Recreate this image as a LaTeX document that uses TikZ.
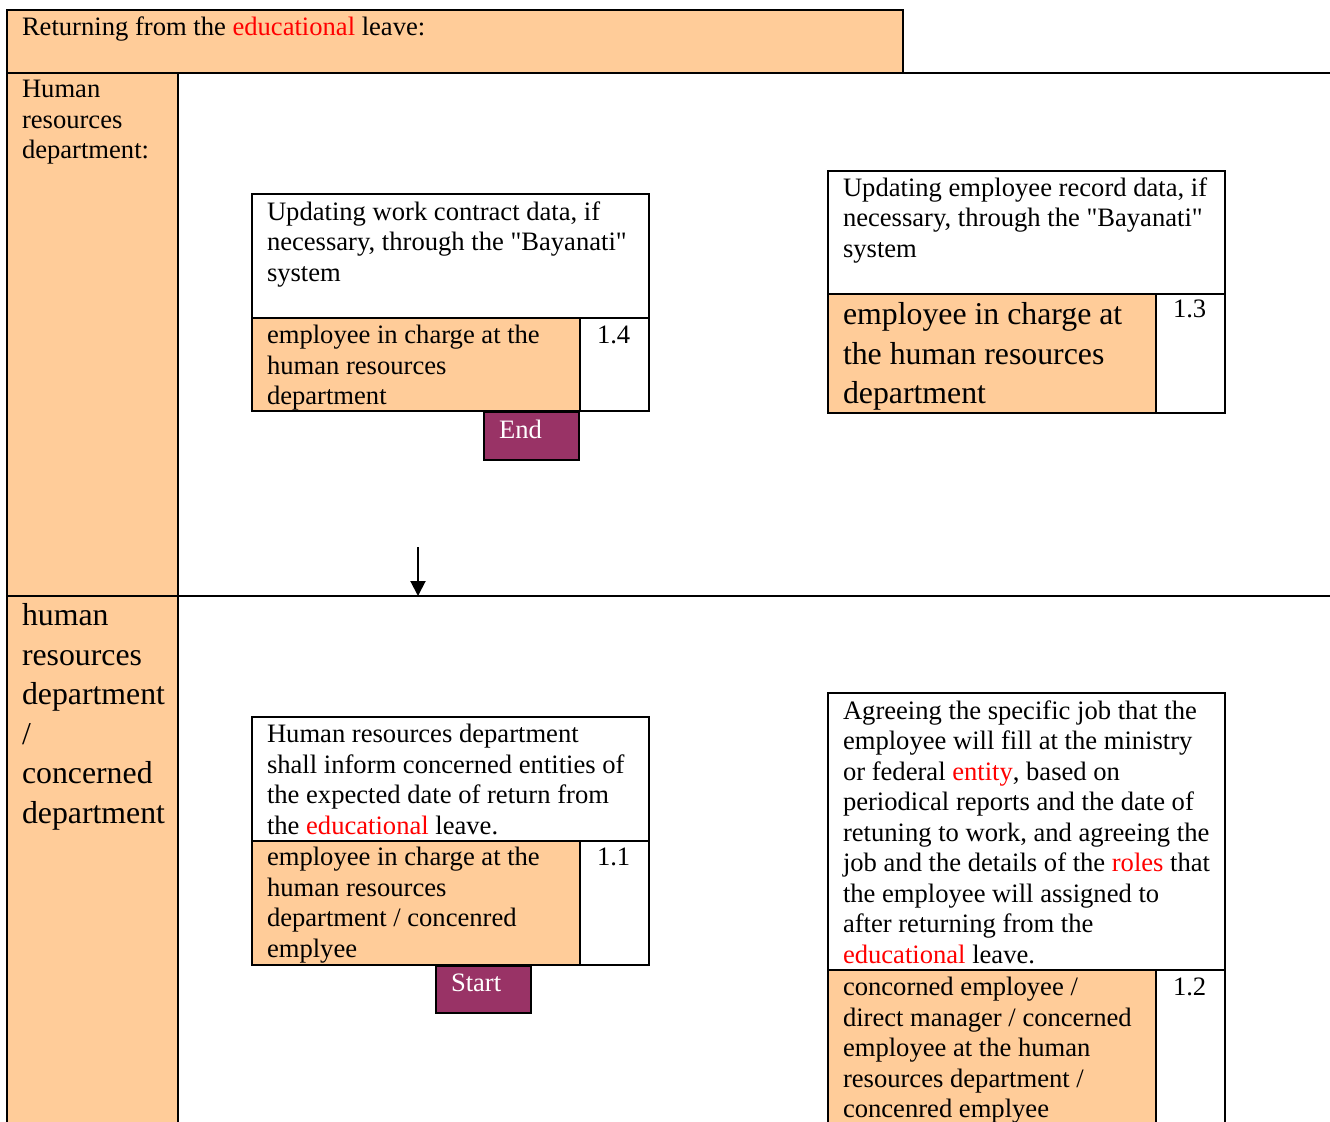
\documentclass[tikz,border=0pt]{standalone}
\usepackage{fontspec}
\setmainfont{Liberation Serif}
\usetikzlibrary{arrows.meta}
\definecolor{peach}{HTML}{FFCC99}
\definecolor{plum}{HTML}{993366}
\newcommand{\redword}[1]{\textcolor{red}{#1}}
\newcommand{\qt}{\textquotedbl}

\begin{document}
\begin{tikzpicture}[x=0.5pt, y=-0.5pt, line width=1pt,
	txt/.style={anchor=north west, inner sep=0pt, align=left, yshift=-3.75pt, font=\fontsize{13.3}{15.25}\selectfont, execute at begin node={\rule{0pt}{13pt}}},
	bigtxt/.style={anchor=north west, inner sep=0pt, align=left, yshift=-3.75pt, font=\fontsize{15.9}{19.8}\selectfont, execute at begin node={\rule{0pt}{15pt}}},
	oneline/.style={anchor=base west, inner sep=0pt, font=\fontsize{13.3}{15.25}\selectfont},
	term/.style={oneline, text=white}]
	\useasboundingbox (0, 0) rectangle (1330, 1121);
	\clip (0, 0) rectangle (1330, 1121);
	
	\filldraw[fill=peach] (7, 10) rectangle (903, 73);
	\filldraw[fill=peach] (7, 73) rectangle (178, 1140);
	\draw (178, 73) -- (1330, 73);
	\draw (7, 596) -- (1330, 596);
	\node[oneline] (title) at (21, 35) {Returning from the \redword{educational} leave:};
	\node[txt] (lanehr) at (21, 72) {Human\\resources\\department:};
	\node[bigtxt] (laneconc) at (21, 595) {human\\resources\\department\\/\\concerned\\department};
	
	\filldraw[fill=white] (252, 194) rectangle (649, 411);
	\filldraw[fill=peach] (252, 318) rectangle (580, 411);
	\draw (580, 318) -- (649, 318);
	\node[txt] (t14) at (266, 193) {Updating work contract data, if\\necessary, through the \qt Bayanati\qt\\system};
	\node[txt] (r14) at (266, 317) {employee in charge at the\\human resources\\department};
	\node[oneline] (n14) at (596, 343) {1.4};
	\filldraw[fill=plum] (484, 412) rectangle (579, 460);
	\node[term] (stop) at (498, 438) {End};
	
	\filldraw[fill=white] (828, 171) rectangle (1225, 413);
	\filldraw[fill=peach] (828, 294) rectangle (1156, 413);
	\draw (1156, 294) -- (1225, 294);
	\node[txt] (t13) at (842, 169) {Updating employee record data, if\\necessary, through the \qt Bayanati\qt\\system};
	\node[bigtxt] (r13) at (842, 294) {employee in charge at\\the human resources\\department};
	\node[oneline] (n13) at (1172, 317) {1.3};
	
	\coordinate (from) at (418, 547);
	\coordinate (to) at (418, 596);
	\draw[-{Triangle[length=7.5pt, width=7.5pt]}] (from) -- (to);
	
	\filldraw[fill=white] (252, 717) rectangle (649, 965);
	\filldraw[fill=peach] (252, 841) rectangle (580, 965);
	\draw (580, 841) -- (649, 841);
	\node[txt] (t11) at (266, 716) {Human resources department\\shall inform concerned entities of\\the expected date of return from\\the \redword{educational} leave.};
	\node[txt] (r11) at (266, 839) {employee in charge at the\\human resources\\department / concenred\\emplyee};
	\node[oneline] (n11) at (596, 865) {1.1};
	\filldraw[fill=plum] (436, 966) rectangle (531, 1013);
	\node[term] (begin) at (450, 991) {Start};
	
	\filldraw[fill=white] (828, 693) rectangle (1225, 1140);
	\filldraw[fill=peach] (828, 970) rectangle (1156, 1140);
	\draw (1156, 970) -- (1225, 970);
	\node[txt] (t12) at (842, 692) {Agreeing the specific job that the\\employee will fill at the ministry\\or federal \redword{entity}, based on\\periodical reports and the date of\\retuning to work, and agreeing the\\job and the details of the \redword{roles} that\\the employee will assigned to\\after returning from the\\\redword{educational} leave.};
	\node[txt] (r12) at (842, 969) {concorned employee /\\direct manager / concerned\\employee at the human\\resources department /\\concenred emplyee};
	\node[oneline] (n12) at (1172, 995) {1.2};
\end{tikzpicture}
\end{document}
